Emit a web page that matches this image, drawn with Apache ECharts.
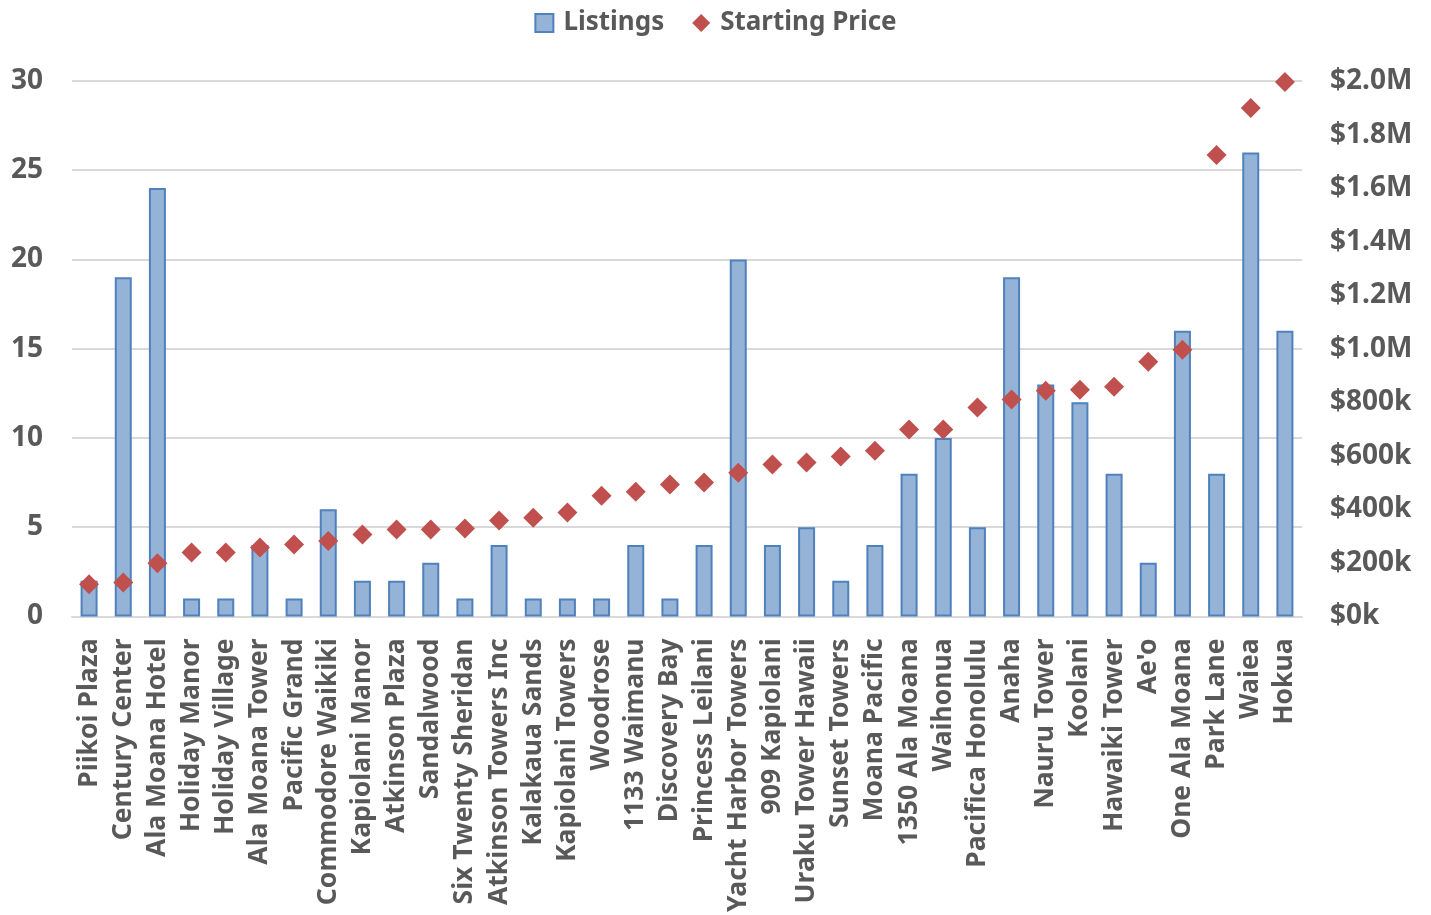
<!DOCTYPE html>
<html>
<head>
<meta charset="utf-8">
<script src="https://cdn.jsdelivr.net/npm/echarts@6/dist/echarts.min.js"></script>
<style>html,body{margin:0;padding:0;background:#fff}#c{width:1431px;height:915px}</style>
</head>
<body>
<div id="c"></div>
<script>
const categories = ["Piikoi Plaza","Century Center","Ala Moana Hotel","Holiday Manor","Holiday Village","Ala Moana Tower","Pacific Grand","Commodore Waikiki","Kapiolani Manor","Atkinson Plaza","Sandalwood","Six Twenty Sheridan","Atkinson Towers Inc","Kalakaua Sands","Kapiolani Towers","Woodrose","1133 Waimanu","Discovery Bay","Princess Leilani","Yacht Harbor Towers","909 Kapiolani","Uraku Tower Hawaii","Sunset Towers","Moana Pacific","1350 Ala Moana","Waihonua","Pacifica Honolulu","Anaha","Nauru Tower","Koolani","Hawaiki Tower","Ae'o","One Ala Moana","Park Lane","Waiea","Hokua"];
const listings = [2,19,24,1,1,4,1,6,2,2,3,1,4,1,1,1,4,1,4,20,4,5,2,4,8,10,5,19,13,12,8,3,16,8,26,16];
const startingPrice = [120000,127000,199000,239000,239000,257000,269000,282000,306000,325000,325000,328000,358000,369000,388000,451000,466000,493000,500000,537000,567000,575000,597000,619000,698000,698000,780000,810000,843000,847000,858000,951000,996000,1724000,1899000,1996000];
const leftTicks = {min:0,max:30,interval:5};
const rightTicks = {min:0,max:2000000,interval:200000};

const FONT = "Noto Sans";
const TXT = "#595959";
const chart = echarts.init(document.getElementById('c'), null, {renderer:'canvas'});
chart.setOption({
  animation:false,
  textStyle:{fontFamily:FONT},
  legend:{
    top:5, left:'center', itemGap:28, itemWidth:18, itemHeight:18,
    textStyle:{fontFamily:FONT,fontWeight:'bold',fontSize:26,color:TXT,padding:[0,0,0,5]},
    data:[{name:'Listings',icon:'rect'},{name:'Starting Price',icon:'diamond'}]
  },
  grid:{left:72,right:129,top:81,bottom:298,containLabel:false},
  xAxis:{
    type:'category', data:categories,
    axisLine:{lineStyle:{color:'#d9d9d9',width:2}},
    axisTick:{show:false},
    axisLabel:{rotate:90,interval:0,fontFamily:FONT,fontWeight:'bold',fontSize:26.5,color:TXT,margin:22}
  },
  yAxis:[{
    type:'value', min:leftTicks.min, max:leftTicks.max, interval:leftTicks.interval,
    axisLine:{show:false}, axisTick:{show:false},
    splitLine:{lineStyle:{color:'#d9d9d9',width:2}},
    axisLabel:{fontFamily:FONT,fontWeight:'bold',fontSize:28,color:TXT,margin:29}
  },{
    type:'value', min:rightTicks.min, max:rightTicks.max, interval:rightTicks.interval,
    axisLine:{show:false}, axisTick:{show:false}, splitLine:{show:false},
    axisLabel:{fontFamily:FONT,fontWeight:'bold',fontSize:28,color:TXT,margin:28,
      formatter:function(v){ if(v>=1000000) return '$'+(v/1000000).toFixed(1)+'M'; return '$'+Math.round(v/1000)+'k'; }}
  }],
  series:[{
    name:'Listings', type:'bar', data:listings, yAxisIndex:0, barWidth:17,
    itemStyle:{color:'#95b3d7',borderColor:'#4f81bd',borderWidth:2}
  },{
    name:'Starting Price', type:'scatter', data:startingPrice, yAxisIndex:1,
    symbol:'diamond', symbolSize:20, itemStyle:{color:'#c0504d',opacity:1}, z:5
  }]
});
</script>
</body>
</html>
